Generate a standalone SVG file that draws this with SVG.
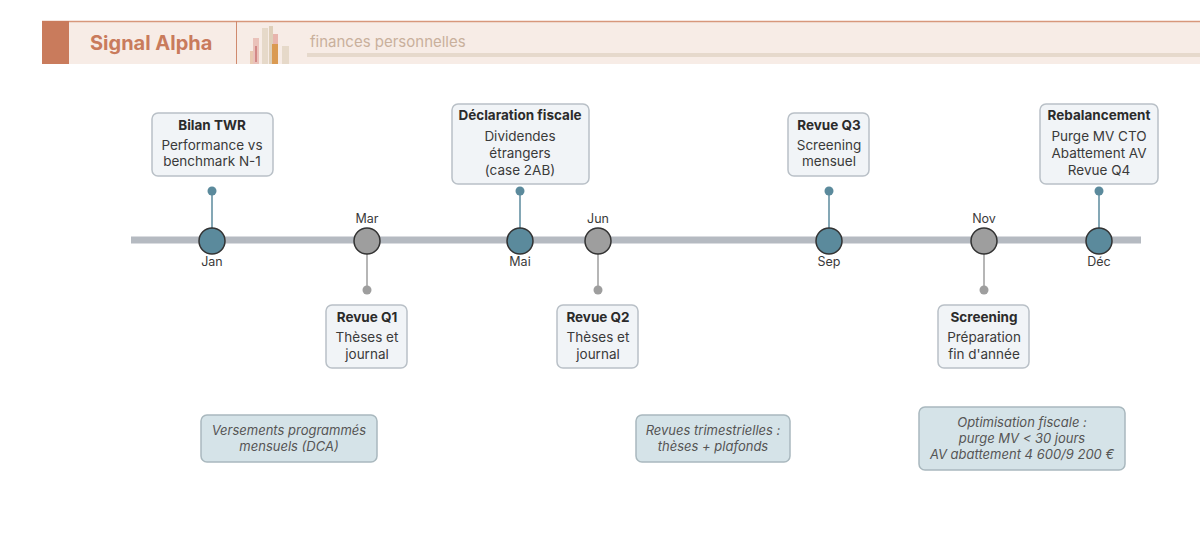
<svg xmlns="http://www.w3.org/2000/svg" width="1200" height="541" viewBox="0 0 1200 541">
<style>
text{font-family:Inter,"Noto Sans",sans-serif}
.box{fill:#f1f4f7;stroke:#b9c0c7;stroke-width:1.5}
.t{font-size:13.5px;font-weight:bold;fill:#2b2b2b;text-anchor:middle}
.b{font-size:13.5px;fill:#3a3a3a;text-anchor:middle}
.m{font-size:12.5px;fill:#3a3a3a;text-anchor:middle}
.note{fill:#d5e3e8;stroke:#a9b8be;stroke-width:1.5}
.n{font-size:13px;font-style:italic;fill:#555;text-anchor:middle}
.ct{stroke:#5b8a9c;stroke-width:1.5}
.cg{stroke:#9e9e9e;stroke-width:1.5}
</style>
<rect width="1200" height="541" fill="#fff"/>
<g id="header">
<rect x="42" y="21" width="1158" height="43" fill="#f7ece6"/>
<line x1="42" y1="21.5" x2="1200" y2="21.5" stroke="#d7977b" stroke-width="1.5"/>
<rect x="42" y="21" width="27" height="43" fill="#c97b5c"/>
<line x1="236.5" y1="21" x2="236.5" y2="64" stroke="#d08a6e" stroke-width="1"/>
<text x="90" y="50" font-size="20" font-weight="bold" fill="#c97b5c">Signal Alpha</text>
<g opacity="0.8">
<rect x="250" y="51" width="7" height="13" fill="#e6c1a5"/>
<rect x="253" y="38" width="6" height="26" fill="#e8b8b0"/>
<rect x="262" y="28" width="6" height="36" fill="#e2d5c3"/>
<rect x="269" y="26" width="4" height="38" fill="#d9c8ae"/>
<rect x="273" y="34" width="5" height="30" fill="#e5a8a0"/>
<rect x="272" y="44" width="6" height="20" fill="#d4862e"/>
<rect x="282" y="46" width="7" height="18" fill="#e2d5c3"/>
<rect x="255" y="46" width="2" height="16" fill="#c97070"/>
</g>
<text x="310" y="47" font-size="15" fill="#c9b09c">finances personnelles</text>
<rect x="307" y="53" width="893" height="4" fill="#e6d9cc"/>
</g>
<g id="connectors">
<line x1="131" y1="240" x2="1141" y2="240" stroke="#b5bac1" stroke-width="7"/>
<line class="ct" x1="212" y1="191" x2="212" y2="240"/><circle cx="212" cy="191" r="4.5" fill="#5b8a9c"/>
<line class="ct" x1="520" y1="191" x2="520" y2="240"/><circle cx="520" cy="191" r="4.5" fill="#5b8a9c"/>
<line class="ct" x1="829" y1="191" x2="829" y2="240"/><circle cx="829" cy="191" r="4.5" fill="#5b8a9c"/>
<line class="ct" x1="1099" y1="191" x2="1099" y2="240"/><circle cx="1099" cy="191" r="4.5" fill="#5b8a9c"/>
<line class="cg" x1="367" y1="240" x2="367" y2="290"/><circle cx="367" cy="290" r="4.5" fill="#9e9e9e"/>
<line class="cg" x1="598" y1="240" x2="598" y2="290"/><circle cx="598" cy="290" r="4.5" fill="#9e9e9e"/>
<line class="cg" x1="984" y1="240" x2="984" y2="290"/><circle cx="984" cy="290" r="4.5" fill="#9e9e9e"/>
</g>
<g id="months" font-size="12.5">
<g id="m-jan"><circle cx="212" cy="241" r="13" fill="#5b8a9c" stroke="#333" stroke-width="1.5"/><text class="m" x="212" y="266">Jan</text></g>
<g id="m-mar"><circle cx="367" cy="241" r="13" fill="#9e9e9e" stroke="#333" stroke-width="1.5"/><text class="m" x="367" y="223">Mar</text></g>
<g id="m-mai"><circle cx="520" cy="241" r="13" fill="#5b8a9c" stroke="#333" stroke-width="1.5"/><text class="m" x="520" y="266">Mai</text></g>
<g id="m-jun"><circle cx="598" cy="241" r="13" fill="#9e9e9e" stroke="#333" stroke-width="1.5"/><text class="m" x="598" y="223">Jun</text></g>
<g id="m-sep"><circle cx="829" cy="241" r="13" fill="#5b8a9c" stroke="#333" stroke-width="1.5"/><text class="m" x="829" y="266">Sep</text></g>
<g id="m-nov"><circle cx="984" cy="241" r="13" fill="#9e9e9e" stroke="#333" stroke-width="1.5"/><text class="m" x="984" y="223">Nov</text></g>
<g id="m-dec"><circle cx="1099" cy="241" r="13" fill="#5b8a9c" stroke="#333" stroke-width="1.5"/><text class="m" x="1099" y="266">Déc</text></g>
</g>
<g id="n-bilan"><rect class="box" x="152" y="113" width="121" height="63" rx="6"/><text class="t" x="212" y="130">Bilan TWR</text><text class="b" x="212" y="150">Performance vs</text><text class="b" x="212" y="166">benchmark N-1</text></g>
<g id="n-decl"><rect class="box" x="452" y="104" width="137" height="80" rx="6"/><text class="t" x="520" y="120">Déclaration fiscale</text><text class="b" x="520" y="141">Dividendes</text><text class="b" x="520" y="158">étrangers</text><text class="b" x="520" y="175">(case 2AB)</text></g>
<g id="n-q3"><rect class="box" x="788" y="113" width="81" height="63" rx="6"/><text class="t" x="829" y="130">Revue Q3</text><text class="b" x="829" y="150">Screening</text><text class="b" x="829" y="166">mensuel</text></g>
<g id="n-rebal"><rect class="box" x="1040" y="104" width="118" height="80" rx="6"/><text class="t" x="1099" y="120">Rebalancement</text><text class="b" x="1099" y="141">Purge MV CTO</text><text class="b" x="1099" y="158">Abattement AV</text><text class="b" x="1099" y="175">Revue Q4</text></g>
<g id="n-q1"><rect class="box" x="326" y="305" width="81" height="63" rx="6"/><text class="t" x="367" y="322">Revue Q1</text><text class="b" x="367" y="342">Thèses et</text><text class="b" x="367" y="359">journal</text></g>
<g id="n-q2"><rect class="box" x="557" y="305" width="81" height="63" rx="6"/><text class="t" x="598" y="322">Revue Q2</text><text class="b" x="598" y="342">Thèses et</text><text class="b" x="598" y="359">journal</text></g>
<g id="n-screen"><rect class="box" x="938" y="305" width="91" height="63" rx="6"/><text class="t" x="984" y="322">Screening</text><text class="b" x="984" y="342">Préparation</text><text class="b" x="984" y="359">fin d'année</text></g>
<g id="note1"><rect class="note" x="201" y="415" width="176" height="47" rx="6"/><text class="n" x="289" y="435">Versements programmés</text><text class="n" x="289" y="451">mensuels (DCA)</text></g>
<g id="note2"><rect class="note" x="636" y="415" width="154" height="47" rx="6"/><text class="n" x="713" y="435">Revues trimestrielles :</text><text class="n" x="713" y="451">thèses + plafonds</text></g>
<g id="note3"><rect class="note" x="919" y="407" width="206" height="63" rx="6"/><text class="n" x="1022" y="427">Optimisation fiscale :</text><text class="n" x="1022" y="443">purge MV &lt; 30 jours</text><text class="n" x="1022" y="459">AV abattement 4 600/9 200 €</text></g>
</svg>
